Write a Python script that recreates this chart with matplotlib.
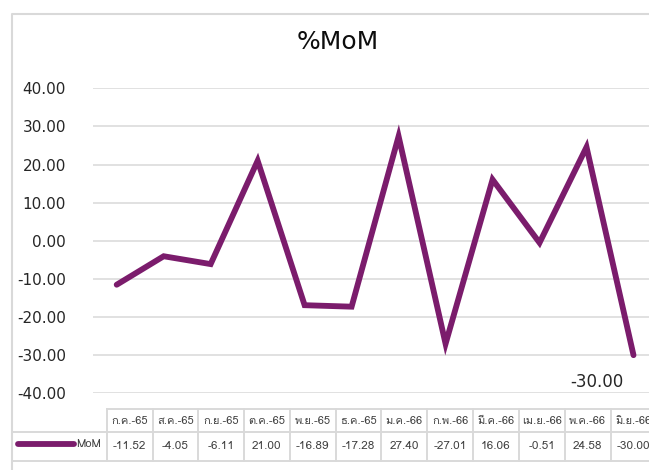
import numpy as np
import matplotlib
matplotlib.use("Agg")
import matplotlib.pyplot as plt
from matplotlib import font_manager
from matplotlib.ft2font import FT2Font

months = ["ก.ค.-65", "ส.ค.-65", "ก.ย.-65", "ต.ค.-65", "พ.ย.-65", "ธ.ค.-65",
          "ม.ค.-66", "ก.พ.-66", "มี.ค.-66", "เม.ย.-66", "พ.ค.-66", "มิ.ย.-66"]
mom = [-11.52, -4.05, -6.11, 21.00, -16.89, -17.28,
       27.40, -27.01, 16.06, -0.51, 24.58, -30.00]
yticks = [-40, -30, -20, -10, 0, 10, 20, 30, 40]

LINE = "#7B1C6C"
GRID = "#D9D9D9"
TEXT = "#404040"


def find_thai_font():
    # look for any installed font that has Thai glyphs
    for path in sorted(font_manager.findSystemFonts()):
        try:
            if ord("ก") in FT2Font(path).get_charmap():
                font_manager.fontManager.addfont(path)
                return font_manager.FontProperties(fname=path).get_name()
        except Exception:
            pass
    return None


thai = find_thai_font()
families = [thai, "DejaVu Sans"] if thai else ["DejaVu Sans"]
plt.rcParams["font.family"] = families

W, H = 649, 470
fig = plt.figure(figsize=(W / 100, H / 100), dpi=100)

# plot area in pixels (extends past the right edge like the source crop)
left, right, top, bottom = 93.2, 657.0, 88.3, 393.3
ax = fig.add_axes([left / W, 1 - bottom / H, (right - left) / W, (bottom - top) / H])
x = np.arange(len(mom))
ax.plot(x, mom, color=LINE, lw=4.2, solid_capstyle="round", solid_joinstyle="miter", zorder=3)
ax.set_xlim(-0.5, len(mom) - 0.5)
ax.set_ylim(-40, 40)
ax.set_yticks(yticks)
ax.set_yticklabels([f"{v:.2f}" for v in yticks], fontsize=11, color="#262626",
                   family="DejaVu Sans")
ax.tick_params(axis="y", length=0, pad=19.5)
ax.set_xticks([])
ax.grid(axis="y", color=GRID, lw=1.1)
ax.set_axisbelow(True)
for s in ax.spines.values():
    s.set_visible(False)
ax.annotate(f"{mom[-1]:.2f}", (x[-1], mom[-1]), xytext=(-36.6, -26.7),
            textcoords="offset pixels", ha="center", va="center",
            fontsize=12, color="#262626", family="DejaVu Sans")

# overlay in pixel coordinates for border, title and data table
ov = fig.add_axes([0, 0, 1, 1], zorder=-1)
ov.set_xlim(0, W)
ov.set_ylim(H, 0)
ov.axis("off")
ov.plot([11.5, 11.5, W + 5], [H + 5, 13.5, 13.5], color=GRID, lw=1.5)
ov.text(337.5, 41.7, "%MoM", ha="center", va="center", fontsize=18,
        color="#0D0D0D", family="DejaVu Sans")

col0, colw = 106.7, 45.8
r0, r1, r2 = 409.3, 431.7, 460.5
n = len(months)
ov.plot([col0, W + 5], [r0, r0], color=GRID, lw=1.4)
ov.plot([11.5, W + 5], [r1, r1], color=GRID, lw=1.4)
ov.plot([11.5, W + 5], [r2, r2], color=GRID, lw=1.4)
for i in range(n + 1):
    cx = col0 + colw * i
    ov.plot([cx, cx], [r0, r2], color=GRID, lw=1.4)
for i, (m, v) in enumerate(zip(months, mom)):
    cx = col0 + colw * (i + 0.5)
    ov.text(cx, (r0 + r1) / 2, m, ha="center", va="center", fontsize=8, color=TEXT)
    ov.text(cx, (r1 + r2) / 2, f"{v:.2f}", ha="center", va="center", fontsize=8.5,
            color=TEXT)
ov.plot([18, 74], [444.3, 444.3], color=LINE, lw=4.2, solid_capstyle="round")
ov.text(101, 444.3, "MoM", ha="right", va="center", fontsize=8, color=TEXT)

fig.savefig("out.png", dpi=100)
